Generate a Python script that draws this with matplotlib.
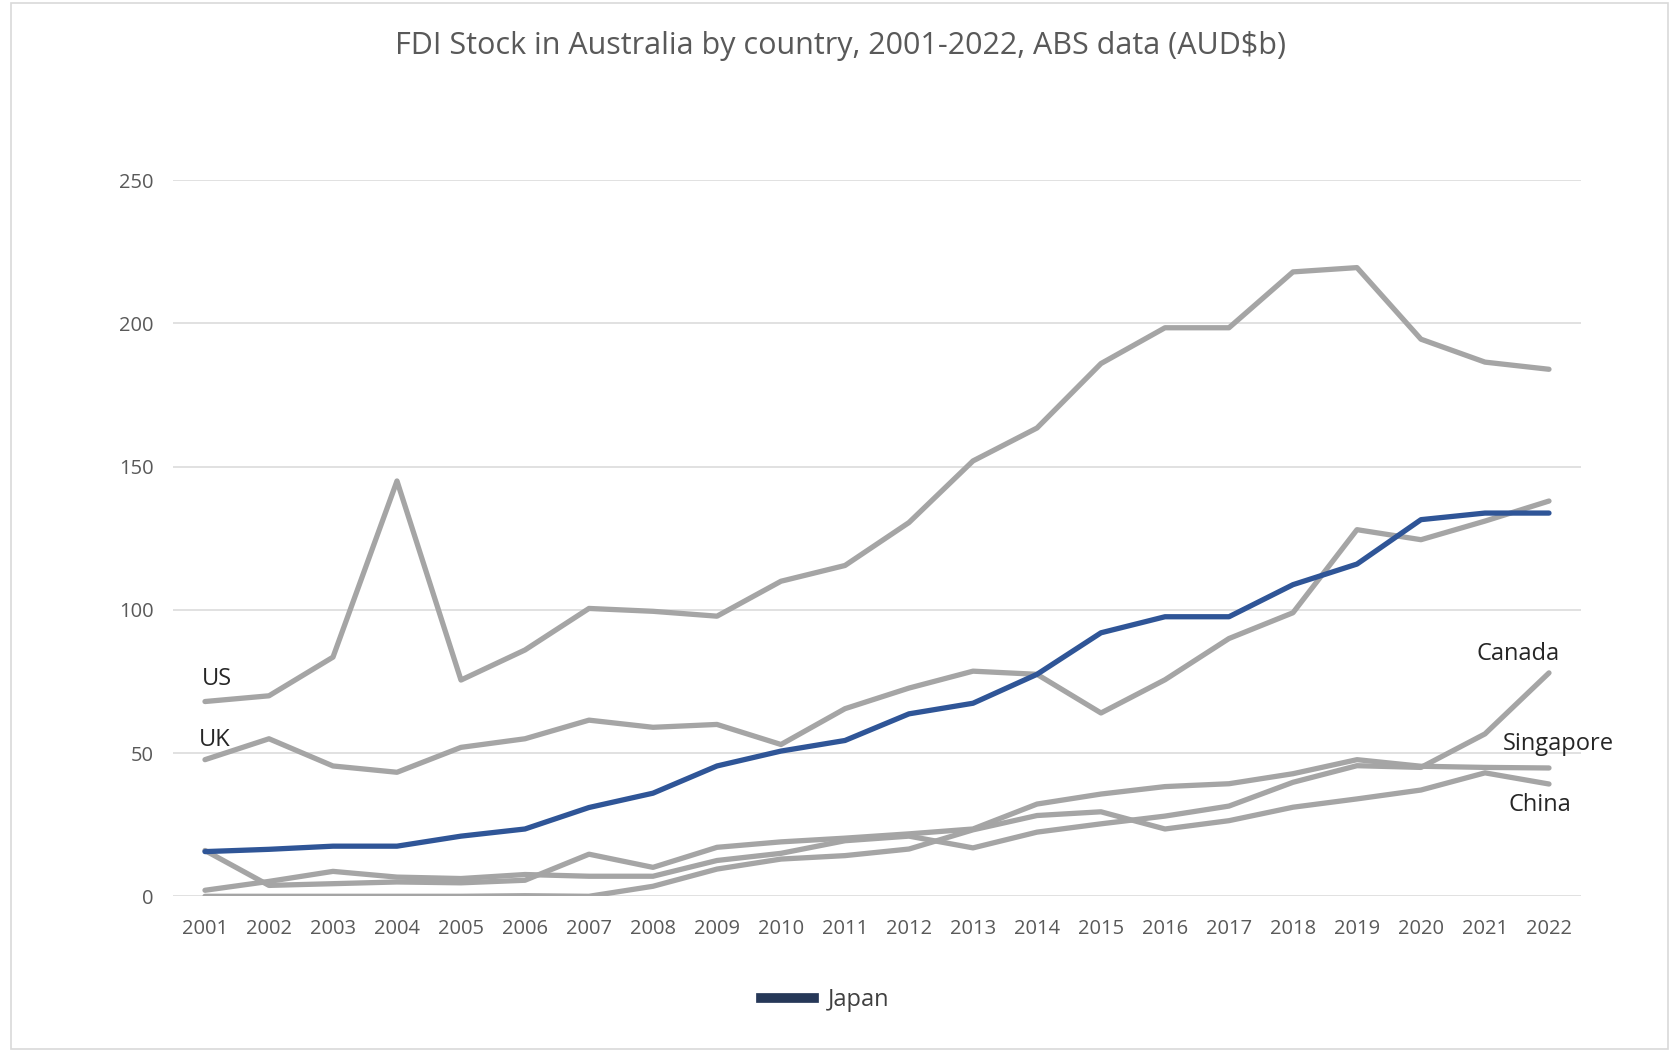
import matplotlib
matplotlib.use("Agg")
import matplotlib.pyplot as plt
from matplotlib.lines import Line2D
from matplotlib.patches import Rectangle

plt.rcParams['font.family'] = ['Open Sans', 'DejaVu Sans']

# values (AUD$b)
years = list(range(2001, 2023))
us = [68, 70, 83.5, 145, 75.5, 86, 100.5, 99.5, 97.8, 110, 115.5, 130.5,
      152, 163.5, 186, 198.5, 198.5, 218, 219.5, 194.5, 186.5, 184]
uk = [47.7, 55, 45.5, 43.3, 52, 55, 61.5, 59, 60, 53, 65.5, 72.7,
      78.6, 77.5, 64, 75.6, 90, 99, 128, 124.5, 131, 138]
japan = [15.6, 16.4, 17.5, 17.5, 21, 23.5, 31, 36, 45.5, 50.7, 54.4, 63.7,
         67.4, 77.5, 92, 97.6, 97.6, 108.8, 116, 131.5, 133.8, 133.8]
canada = [2.1, 5.2, 8.7, 6.7, 6.2, 7.6, 7.0, 7.0, 12.5, 15, 19.4, 21,
          16.9, 22.4, 25.3, 28, 31.5, 39.8, 45.6, 45, 56.7, 78]
singapore = [16, 3.8, 4.4, 5, 4.7, 5.6, 14.7, 10.1, 17.1, 19, 20.3, 21.8,
             23.5, 32.2, 35.7, 38.3, 39.3, 42.8, 47.7, 45.4, 45, 44.8]
china = [0, 0, 0, 0, 0, 0.2, 0, 3.5, 9.5, 13, 14.2, 16.5,
         23.2, 28.2, 29.5, 23.5, 26.4, 31.1, 34, 37.1, 43.1, 39.2]

GREY = '#A5A5A5'
BLUE = '#2F5597'
TEXT = '#595959'

fig = plt.figure(figsize=(16.73, 10.51), dpi=100)
ax = fig.add_axes([0.1034, 0.1472, 0.8416, 0.6813])

# chart frame
fig.patches.append(Rectangle((11 / 1673, 2 / 1051), 1657 / 1673, 1046 / 1051,
                             transform=fig.transFigure, fill=False,
                             edgecolor='#D9D9D9', linewidth=1.2))

line_kw = dict(linewidth=3.8, solid_joinstyle='round', solid_capstyle='round')
for series in [us, uk, canada, singapore, china]:
    ax.plot(years, series, color=GREY, **line_kw)
ax.plot(years, japan, color=BLUE, zorder=3, **line_kw)

ax.set_xlim(2000.5, 2022.5)
ax.set_ylim(0, 250)
ax.set_xticks(years)
ax.set_xticklabels([str(y) for y in years])
ax.set_yticks([0, 50, 100, 150, 200, 250])
ax.grid(axis='y', color='#D9D9D9', linewidth=1.1)
ax.set_axisbelow(True)
for s in ax.spines.values():
    s.set_visible(False)
ax.tick_params(length=0, colors=TEXT, labelsize=14.5)
ax.tick_params(axis='x', pad=16)
ax.tick_params(axis='y', pad=14)

# series labels
lab_kw = dict(fontsize=17, color='#262626')
ax.text(2000.95, 76, 'US', ha='left', va='center', **lab_kw)
ax.text(2000.9, 54.4, 'UK', ha='left', va='center', **lab_kw)
ax.text(2021.52, 84.6, 'Canada', ha='center', va='center', **lab_kw)
ax.text(2022.14, 53, 'Singapore', ha='center', va='center', **lab_kw)
ax.text(2021.86, 32, 'China', ha='center', va='center', **lab_kw)

fig.text(0.5026, 0.9563, 'FDI Stock in Australia by country, 2001-2022, ABS data (AUD$b)',
         ha='center', va='center', fontsize=22, color=TEXT)

handle = Line2D([], [], color='#263858', linewidth=7)
fig.legend([handle], ['Japan'], loc='center', bbox_to_anchor=(0.4933, 0.0487),
           frameon=False, fontsize=17, handlelength=2.25, handletextpad=0.6,
           labelcolor='#404040')

fig.savefig('out.png', dpi=100)
